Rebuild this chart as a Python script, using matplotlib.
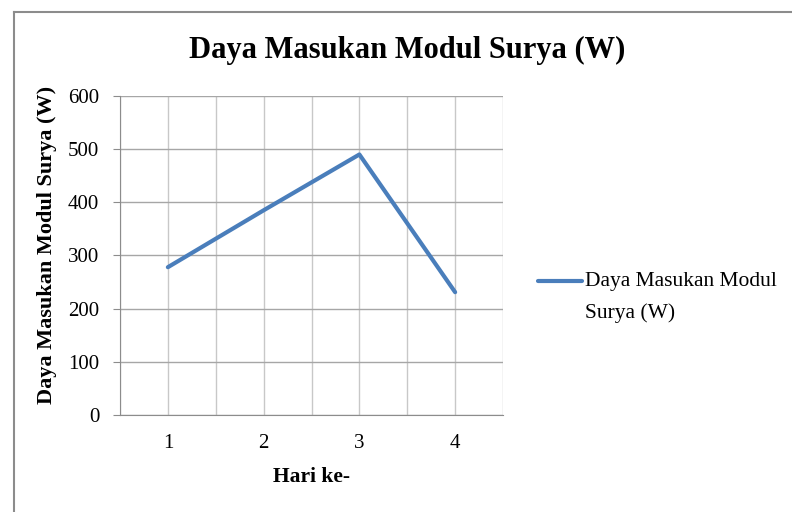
import matplotlib

matplotlib.use("Agg")
import matplotlib.pyplot as plt
from matplotlib.lines import Line2D

days = [1, 2, 3, 4]
day_labels = ["1", "2", "3", "4"]
power_w = [278, 385, 490, 231]
y_ticks = [0, 100, 200, 300, 400, 500, 600]
series_name = "Daya Masukan Modul Surya (W)"

plt.rcParams["font.family"] = ["Liberation Serif", "DejaVu Serif"]
LINE_C = "#4a7ebb"

fig = plt.figure(figsize=(7.92, 5.12), dpi=100)

# outer chart border (only left and top visible in the crop)
fig.add_artist(Line2D([14 / 792, 14 / 792], [0, 1 - 12 / 512], transform=fig.transFigure,
                      color="#8c8c8c", lw=1.5))
fig.add_artist(Line2D([14 / 792, 1], [1 - 12 / 512, 1 - 12 / 512], transform=fig.transFigure,
                      color="#8c8c8c", lw=1.5))

ax = fig.add_axes([120 / 792, 97 / 512, 383 / 792, 319 / 512])
ax.plot(days, power_w, color=LINE_C, lw=3, solid_capstyle="round", label=series_name)

ax.set_xlim(0.5, 4.5)
ax.set_ylim(0, 600)
ax.set_yticks(y_ticks)
ax.set_xticks(days)
ax.set_xticklabels(day_labels)
ax.set_xticks([0.5 + i for i in range(5)], minor=True)
ax.grid(True, which="major", axis="y", color="#a6a6a6", lw=1)
ax.grid(True, which="both", axis="x", color="#c8c8c8", lw=1)
ax.set_axisbelow(True)

for s in ["top", "right"]:
    ax.spines[s].set_visible(False)
ax.spines["left"].set_color("#8c8c8c")
ax.spines["bottom"].set_color("#8c8c8c")
ax.tick_params(axis="y", which="major", length=5, color="#8c8c8c", labelsize=15, pad=10)
ax.tick_params(axis="x", which="both", length=0, labelsize=15, pad=14)

ax.set_xlabel("Hari ke-", fontsize=15.5, fontweight="bold", labelpad=10)
ax.set_ylabel(series_name, fontsize=16, fontweight="bold")
ax.yaxis.set_label_coords(-0.165, 0.533)
fig.text(407 / 792, 1 - 50 / 512, series_name, fontsize=22,
         fontweight="bold", ha="center", va="center")

# legend, Excel style: key aligned with the first line of the wrapped name
ly = 1 - 281 / 512
fig.add_artist(Line2D([538 / 792, 582 / 792], [ly, ly], transform=fig.transFigure,
                      color=LINE_C, lw=3, solid_capstyle="round"))
fig.text(585 / 792, 1 - 272 / 512, "Daya Masukan Modul\nSurya (W)", fontsize=15.5,
         ha="left", va="top", linespacing=1.8)

fig.savefig("out.png", dpi=100)
